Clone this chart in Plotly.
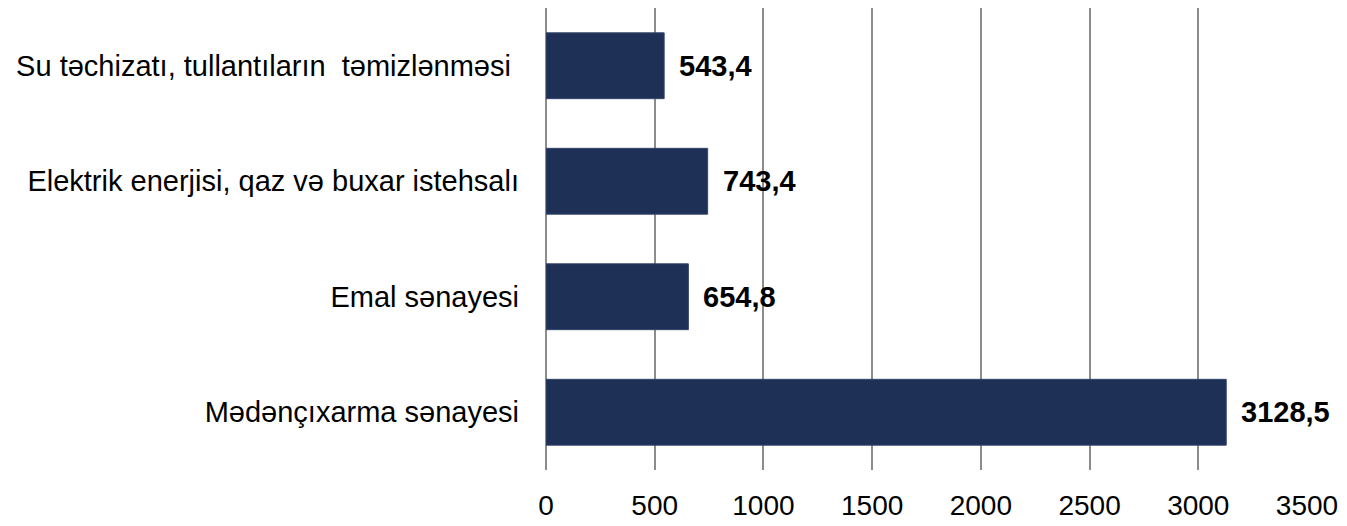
import plotly.graph_objects as go

categories = ["Mədənçıxarma sənayesi", "Emal sənayesi",
              "Elektrik enerjisi, qaz və buxar istehsalı",
              "Su təchizatı, tullantıların  təmizlənməsi "]
values = [3128.5, 654.8, 743.4, 543.4]
labels = ["3128,5", "654,8", "743,4", "543,4"]
x_ticks = [0, 500, 1000, 1500, 2000, 2500, 3000, 3500]

FONT = "Liberation Sans, Arial"
fig = go.Figure()
fig.add_trace(go.Bar(
    y=categories, x=values, orientation="h",
    marker=dict(color="#1F3057", line=dict(color="#34456c", width=1)),
    width=0.57,
))
for c, v, t in zip(categories, values, labels):
    fig.add_annotation(x=v, y=c, text=t, showarrow=False, xanchor="left",
                       xshift=13, font=dict(family=FONT, size=29, color="black", weight="bold"))

# page body has an 8px margin; offset margins so the plot lands where the reference has it
fig.update_layout(
    width=1347, height=526,
    margin=dict(l=538, r=48, t=0, b=64),
    paper_bgcolor="white", plot_bgcolor="white",
    showlegend=False,
    font=dict(family=FONT, color="black"),
    xaxis=dict(range=[0, 3500], tickvals=x_ticks, showgrid=True, gridcolor="#8c8c8c",
               gridwidth=1.5, zeroline=True, zerolinecolor="#8c8c8c", zerolinewidth=1.5,
               showline=False, tickfont=dict(size=28), ticklabelstandoff=16),
    yaxis=dict(range=[-0.5, 3.5], showgrid=False, zeroline=False, showline=False,
               tickfont=dict(size=29), ticklabelstandoff=26),
)
fig.write_html("out.html")
